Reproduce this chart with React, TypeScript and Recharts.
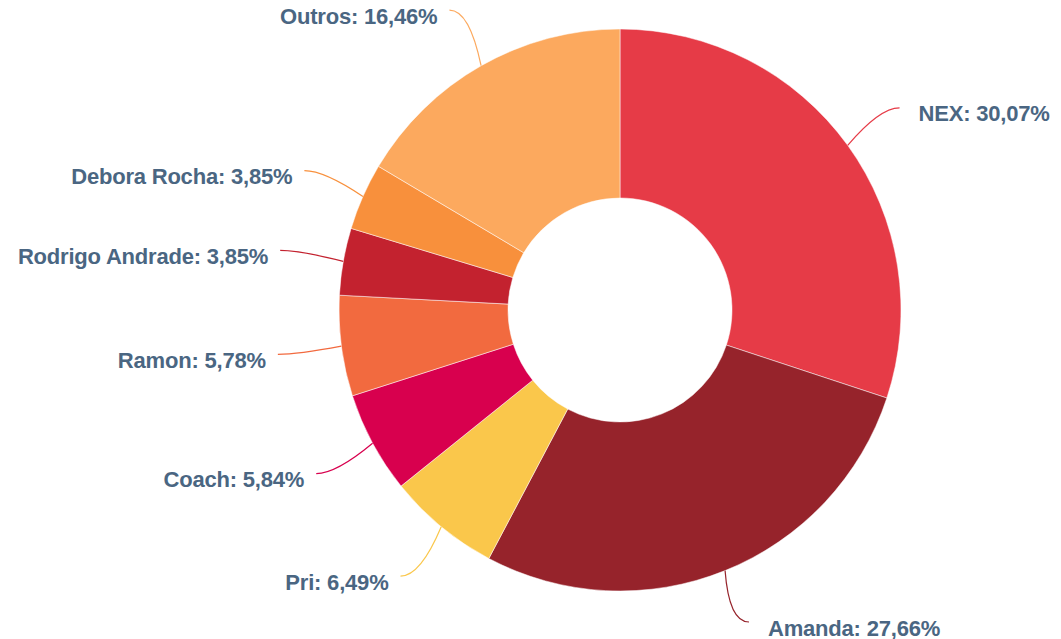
import React from 'react';
import { PieChart, Pie, Cell } from 'recharts';

const names = ['NEX', 'Amanda', 'Pri', 'Coach', 'Ramon', 'Rodrigo Andrade', 'Debora Rocha', 'Outros'];
const values = [30.07, 27.66, 6.49, 5.84, 5.78, 3.85, 3.85, 16.46];
const colors = ['#E63B47', '#96232B', '#FAC74B', '#D8004E', '#F26A3F', '#C3222F', '#F8903C', '#FCA95E'];

const data = names.map((name, i) => ({ name, value: values[i] }));

const RAD = Math.PI / 180;
const LABEL_COLOR = '#4A6682';
const HEIGHT = 639;

const renderLabel = (props: any) => {
  const { cx, cy, midAngle, outerRadius, index, name, value } = props;
  const a = -midAngle * RAD;
  const cos = Math.cos(a);
  const sin = Math.sin(a);
  const ex = cx + outerRadius * cos;
  const ey = cy + outerRadius * sin;
  const lr = outerRadius + 64;
  const lx = cx + lr * cos;
  const ly = Math.min(cy + lr * sin, HEIGHT - 17);
  const right = cos >= 0;
  const ctrlX = right ? lx - 20 : lx + 20;
  const ctrlY = ly;
  const tx = right ? lx + 19 : lx - 12;
  const ty = ly + 6;
  const text = `${name}: ${Number(value).toFixed(2).replace('.', ',')}%`;
  return (
    <g key={`lbl-${index}`}>
      <path
        d={`M${ex},${ey} Q${ctrlX},${ctrlY} ${lx},${ly}`}
        stroke={colors[index]}
        strokeWidth={1.2}
        fill="none"
      />
      <text
        x={tx}
        y={ty}
        textAnchor={right ? 'start' : 'end'}
        dominantBaseline="central"
        fill={LABEL_COLOR}
        fontFamily="'Liberation Sans', Arial, sans-serif"
        fontWeight="bold"
        fontSize={22}
        letterSpacing={-0.2}
      >
        {text}
      </text>
    </g>
  );
};

export default function App() {
  return (
    <div style={{ position: 'absolute', left: 0, top: 0, width: 1061, height: HEIGHT, background: '#fff' }}>
      <PieChart width={1061} height={HEIGHT} margin={{ top: 0, right: 0, bottom: 0, left: 0 }}>
        <Pie
          data={data}
          dataKey="value"
          nameKey="name"
          cx={620}
          cy={310}
          innerRadius={112}
          outerRadius={281}
          startAngle={90}
          endAngle={-270}
          stroke="#ffffff"
          strokeWidth={0.5}
          label={renderLabel}
          labelLine={false}
          isAnimationActive={false}
        >
          {data.map((d, i) => (
            <Cell key={d.name} fill={colors[i]} />
          ))}
        </Pie>
      </PieChart>
    </div>
  );
}
